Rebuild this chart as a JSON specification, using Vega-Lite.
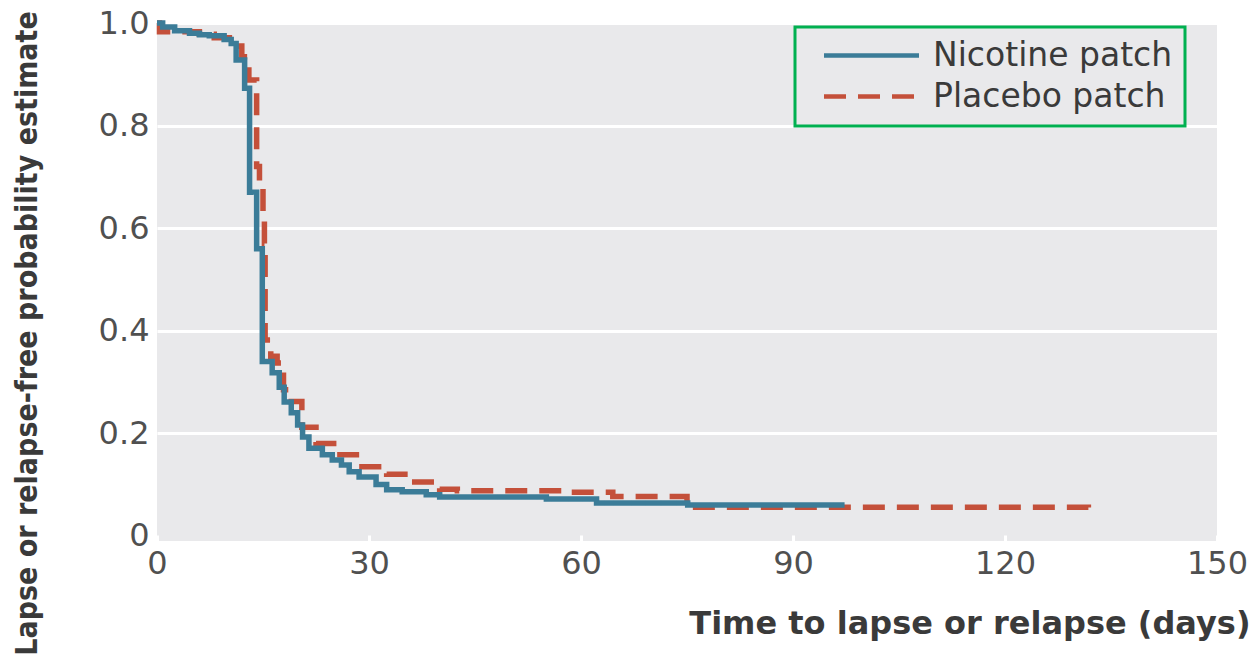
{
  "$schema": "https://vega.github.io/schema/vega-lite/v6.json",
  "width": 1060,
  "height": 518,
  "autosize": "none",
  "padding": {"left": 157, "top": 23, "right": 40, "bottom": 120},
  "background": "white",
  "config": {"view": {"fill": "#e9e9eb", "stroke": null}},
  "data": {"values": [
    {"group": "Placebo patch", "day": 0, "p": 1.0},
    {"group": "Placebo patch", "day": 0.35, "p": 0.983},
    {"group": "Placebo patch", "day": 6.0, "p": 0.978},
    {"group": "Placebo patch", "day": 8.1, "p": 0.971},
    {"group": "Placebo patch", "day": 10.8, "p": 0.955},
    {"group": "Placebo patch", "day": 12.0, "p": 0.934},
    {"group": "Placebo patch", "day": 13.0, "p": 0.889},
    {"group": "Placebo patch", "day": 14.1, "p": 0.72},
    {"group": "Placebo patch", "day": 14.5, "p": 0.68},
    {"group": "Placebo patch", "day": 15.0, "p": 0.62},
    {"group": "Placebo patch", "day": 15.2, "p": 0.57},
    {"group": "Placebo patch", "day": 15.3, "p": 0.382},
    {"group": "Placebo patch", "day": 16.1, "p": 0.35},
    {"group": "Placebo patch", "day": 17.0, "p": 0.337},
    {"group": "Placebo patch", "day": 17.9, "p": 0.285},
    {"group": "Placebo patch", "day": 19.0, "p": 0.262},
    {"group": "Placebo patch", "day": 20.5, "p": 0.212},
    {"group": "Placebo patch", "day": 22.5, "p": 0.18},
    {"group": "Placebo patch", "day": 25.0, "p": 0.158},
    {"group": "Placebo patch", "day": 29.0, "p": 0.135},
    {"group": "Placebo patch", "day": 32.5, "p": 0.12},
    {"group": "Placebo patch", "day": 36.0, "p": 0.105},
    {"group": "Placebo patch", "day": 40.0, "p": 0.091},
    {"group": "Placebo patch", "day": 42.5, "p": 0.088},
    {"group": "Placebo patch", "day": 58.5, "p": 0.085},
    {"group": "Placebo patch", "day": 64.5, "p": 0.077},
    {"group": "Placebo patch", "day": 75.0, "p": 0.056},
    {"group": "Placebo patch", "day": 131.8, "p": 0.051},
    {"group": "Placebo patch", "day": 132.2, "p": 0.051},
    {"group": "Nicotine patch", "day": 0, "p": 1.0},
    {"group": "Nicotine patch", "day": 0.8, "p": 0.992},
    {"group": "Nicotine patch", "day": 2.5, "p": 0.985},
    {"group": "Nicotine patch", "day": 4.6, "p": 0.98},
    {"group": "Nicotine patch", "day": 6.0, "p": 0.977},
    {"group": "Nicotine patch", "day": 7.4, "p": 0.975},
    {"group": "Nicotine patch", "day": 9.5, "p": 0.968},
    {"group": "Nicotine patch", "day": 10.5, "p": 0.96},
    {"group": "Nicotine patch", "day": 11.2, "p": 0.928},
    {"group": "Nicotine patch", "day": 12.4, "p": 0.873},
    {"group": "Nicotine patch", "day": 13.1, "p": 0.67},
    {"group": "Nicotine patch", "day": 14.1, "p": 0.56},
    {"group": "Nicotine patch", "day": 14.9, "p": 0.34},
    {"group": "Nicotine patch", "day": 16.3, "p": 0.318},
    {"group": "Nicotine patch", "day": 17.3, "p": 0.29},
    {"group": "Nicotine patch", "day": 18.0, "p": 0.261},
    {"group": "Nicotine patch", "day": 19.0, "p": 0.24},
    {"group": "Nicotine patch", "day": 19.9, "p": 0.216},
    {"group": "Nicotine patch", "day": 20.6, "p": 0.193},
    {"group": "Nicotine patch", "day": 21.5, "p": 0.171},
    {"group": "Nicotine patch", "day": 23.4, "p": 0.158},
    {"group": "Nicotine patch", "day": 24.8, "p": 0.148},
    {"group": "Nicotine patch", "day": 26.1, "p": 0.138},
    {"group": "Nicotine patch", "day": 27.2, "p": 0.125},
    {"group": "Nicotine patch", "day": 28.6, "p": 0.115},
    {"group": "Nicotine patch", "day": 31.0, "p": 0.1},
    {"group": "Nicotine patch", "day": 32.5, "p": 0.09},
    {"group": "Nicotine patch", "day": 34.7, "p": 0.086},
    {"group": "Nicotine patch", "day": 38.1, "p": 0.08},
    {"group": "Nicotine patch", "day": 40.0, "p": 0.076},
    {"group": "Nicotine patch", "day": 55.1, "p": 0.072},
    {"group": "Nicotine patch", "day": 62.2, "p": 0.064},
    {"group": "Nicotine patch", "day": 75.1, "p": 0.06},
    {"group": "Nicotine patch", "day": 97.3, "p": 0.06}
  ]},
  "encoding": {
    "x": {
      "field": "day", "type": "quantitative",
      "scale": {"domain": [0, 150], "nice": false, "zero": false},
      "axis": {
        "values": [0, 30, 60, 90, 120, 150],
        "domain": false, "grid": false,
        "ticks": true, "tickColor": "white", "tickSize": -6, "tickWidth": 3,
        "labelFont": "DejaVu Sans", "labelFontSize": 32, "labelColor": "#505050",
        "labelPadding": 13, "labelFlush": false,
        "title": "Time to lapse or relapse (days)",
        "titleFont": "DejaVu Sans", "titleFontSize": 32, "titleFontWeight": "bold", "titleColor": "#3a3a3a",
        "titleX": 1093, "titleY": 82, "titleAlign": "right", "titleBaseline": "middle"
      }
    },
    "y": {
      "field": "p", "type": "quantitative",
      "scale": {"domain": [-0.01, 1], "nice": false, "zero": false},
      "axis": {
        "values": [0, 0.2, 0.4, 0.6, 0.8, 1],
        "labelExpr": "datum.value == 0 ? '0' : format(datum.value, '.1f')",
        "domain": false, "ticks": false,
        "grid": true, "gridColor": "white", "gridWidth": 3,
        "gridOpacity": {"condition": {"test": "datum.value === 0", "value": 0}, "value": 1},
        "labelFont": "DejaVu Sans", "labelFontSize": 32, "labelColor": "#505050", "labelPadding": 8,
        "title": "Lapse or relapse-free probability estimate",
        "titleFont": "DejaVu Sans Condensed, Liberation Sans Narrow, DejaVu Sans", "titleFontSize": 30, "titleFontWeight": "bold", "titleColor": "#3a3a3a",
        "titleX": -130, "titleY": 310, "titleAngle": -90, "titleAlign": "center", "titleBaseline": "middle"
      }
    },
    "color": {
      "field": "group", "type": "nominal",
      "scale": {"domain": ["Nicotine patch", "Placebo patch"], "range": ["#3b7c98", "#c4503a"]},
      "legend": {
        "orient": "none", "legendX": 638, "legendY": 4, "title": null,
        "symbolType": "M-5,0H5", "symbolSize": 361, "symbolStrokeWidth": 4.5, "symbolOffset": 48,
        "labelFont": "DejaVu Sans", "labelFontSize": 33, "labelColor": "#3a3a3a", "labelLimit": 500,
        "strokeColor": "#00b050", "padding": 12, "rowPadding": 7, "labelOffset": 45,
        "encode": {"legend": {"update": {"strokeWidth": {"value": 3}}}}
      }
    },
    "strokeDash": {
      "field": "group", "type": "nominal",
      "scale": {"domain": ["Nicotine patch", "Placebo patch"], "range": [[1, 0], [22, 12]]},
      "legend": {
        "orient": "none", "legendX": 638, "legendY": 4, "title": null,
        "symbolType": "M-5,0H5", "symbolSize": 361, "symbolStrokeWidth": 4.5, "symbolOffset": 48,
        "labelFont": "DejaVu Sans", "labelFontSize": 33, "labelColor": "#3a3a3a", "labelLimit": 500,
        "strokeColor": "#00b050", "padding": 12, "rowPadding": 7, "labelOffset": 45,
        "encode": {"legend": {"update": {"strokeWidth": {"value": 3}}}}
      }
    }
  },
  "layer": [
    {
      "transform": [{"filter": "datum.group === 'Placebo patch'"}],
      "mark": {"type": "line", "interpolate": "step-after", "strokeWidth": 5.5}
    },
    {
      "transform": [{"filter": "datum.group === 'Nicotine patch'"}],
      "mark": {"type": "line", "interpolate": "step-after", "strokeWidth": 5.5}
    }
  ]
}
